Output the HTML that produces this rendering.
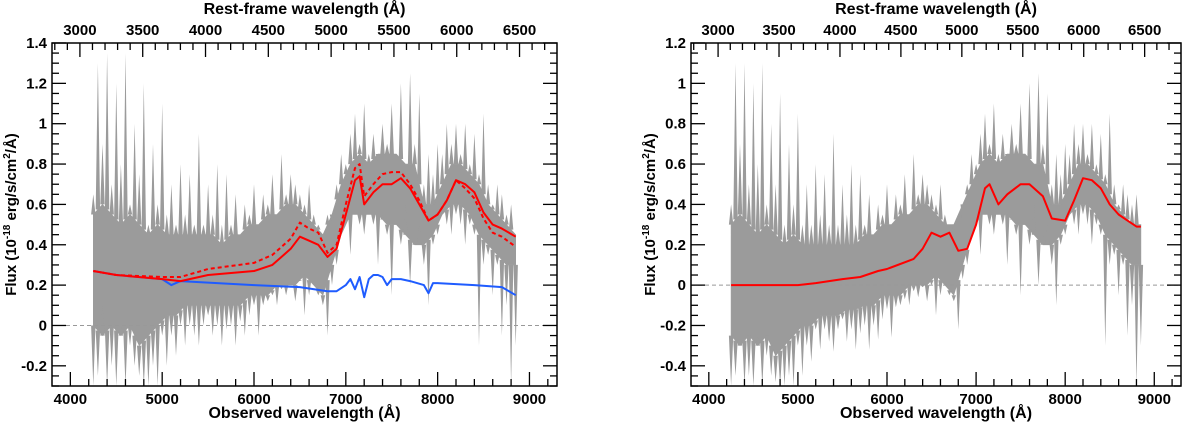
<!DOCTYPE html>
<html><head><meta charset="utf-8"><style>
body{margin:0;background:#fff}
svg text{font-family:"Liberation Sans",sans-serif;font-weight:bold;fill:#000}
</style></head><body>
<svg id="chart" width="1200" height="425" viewBox="0 0 1200 425" xmlns="http://www.w3.org/2000/svg"></svg>
<script>
const waves=[];for(let w=4250;w<=8850;w+=50)waves.push(w);
const coreWaves=[];for(let w=4250;w<=8850;w+=100)coreWaves.push(w);
const leftUpper=[0.65,1.3,0.9,1.35,0.7,1.2,0.8,1.35,0.6,1.0,0.75,1.2,0.5,0.9,0.6,1.1,0.55,0.7,0.5,0.8,0.55,0.75,0.5,0.95,0.5,0.7,0.55,0.8,0.5,0.75,0.5,0.65,0.45,0.6,0.55,0.7,0.5,0.65,0.6,0.75,0.55,0.85,0.65,0.75,0.7,0.65,0.6,0.7,0.55,0.5,0.45,0.55,0.5,0.7,0.85,0.8,0.95,1.05,0.9,1.1,0.85,0.95,0.8,1.0,0.9,1.1,0.85,1.2,0.8,1.25,0.9,1.15,0.7,0.85,0.75,0.9,0.85,1.0,0.9,1.0,0.85,1.0,0.8,0.95,0.75,1.05,0.7,0.6,0.7,0.65,0.55,0.6,0.45];
const leftLower=[-0.3,-0.25,0.1,-0.3,-0.2,-0.3,0.0,-0.3,-0.1,-0.2,-0.25,-0.3,-0.3,-0.2,-0.3,-0.05,-0.2,-0.05,-0.15,0.0,-0.1,0.0,-0.05,-0.1,0.0,0.05,-0.05,0.0,-0.1,-0.02,0.0,-0.1,0.02,-0.05,0.05,0.1,-0.05,0.1,0.12,0.15,0.1,0.18,0.15,0.2,0.12,0.22,0.05,0.15,0.2,0.15,0.1,-0.05,0.2,0.3,0.45,0.5,0.35,0.55,0.5,0.45,0.55,0.5,0.3,0.55,0.45,0.15,0.5,0.4,0.6,0.2,0.45,0.5,0.3,0.1,0.4,0.45,0.55,0.5,0.45,0.55,0.5,0.4,0.5,0.45,-0.1,0.3,0.35,0.15,0.3,-0.05,0.1,-0.3,-0.1];
const leftCoreUpper=[0.55,0.6,0.55,0.5,0.55,0.5,0.45,0.5,0.45,0.45,0.45,0.45,0.45,0.45,0.4,0.45,0.45,0.5,0.5,0.55,0.55,0.6,0.6,0.55,0.5,0.45,0.55,0.7,0.8,0.85,0.8,0.85,0.85,0.85,0.8,0.8,0.6,0.6,0.7,0.8,0.8,0.75,0.7,0.6,0.55,0.5,0.45];
const leftCoreLower=[0.0,-0.05,0.0,-0.05,0.0,-0.1,-0.05,0.0,0.05,0.05,0.1,0.1,0.1,0.1,0.1,0.1,0.1,0.15,0.15,0.15,0.2,0.2,0.2,0.25,0.2,0.15,0.3,0.45,0.55,0.55,0.55,0.55,0.5,0.5,0.45,0.4,0.4,0.45,0.55,0.6,0.6,0.55,0.45,0.4,0.35,0.3,0.3];
const rightUpper=[0.4,1.1,0.7,1.1,0.5,1.0,0.6,1.1,0.4,0.8,0.5,0.95,0.3,0.7,0.4,0.85,0.3,0.5,0.3,0.6,0.35,0.55,0.3,0.75,0.3,0.5,0.35,0.6,0.3,0.55,0.3,0.45,0.25,0.4,0.35,0.5,0.3,0.45,0.4,0.55,0.35,0.65,0.45,0.55,0.5,0.45,0.4,0.5,0.35,0.3,0.25,0.35,0.3,0.5,0.65,0.6,0.75,0.85,0.7,0.9,0.65,0.75,0.6,0.8,0.7,0.9,0.65,1.0,0.6,1.05,0.7,0.95,0.5,0.65,0.55,0.7,0.65,0.8,0.7,0.8,0.65,0.8,0.6,0.75,0.55,0.85,0.5,0.4,0.5,0.45,0.4,0.45,0.3];
const rightLower=[-0.5,-0.45,-0.15,-0.5,-0.45,-0.5,-0.25,-0.5,-0.35,-0.45,-0.48,-0.5,-0.5,-0.45,-0.5,-0.3,-0.45,-0.3,-0.38,-0.22,-0.32,-0.22,-0.28,-0.33,-0.22,-0.17,-0.28,-0.22,-0.32,-0.24,-0.2,-0.32,-0.2,-0.27,-0.17,-0.12,-0.26,-0.11,-0.1,-0.07,-0.1,-0.03,-0.06,-0.01,-0.08,0.0,-0.15,-0.05,0.0,-0.05,-0.08,-0.22,0.03,0.1,0.25,0.3,0.15,0.35,0.3,0.25,0.35,0.3,0.1,0.33,0.25,-0.05,0.3,0.2,0.4,0.0,0.25,0.3,0.1,-0.1,0.2,0.25,0.35,0.3,0.25,0.35,0.3,0.2,0.3,0.25,-0.3,0.1,0.15,-0.05,0.1,-0.25,-0.1,-0.5,-0.3];
const rightCoreUpper=[0.3,0.35,0.3,0.25,0.3,0.25,0.2,0.25,0.2,0.2,0.2,0.2,0.2,0.2,0.2,0.25,0.25,0.3,0.3,0.35,0.35,0.4,0.4,0.35,0.3,0.3,0.4,0.5,0.6,0.65,0.6,0.65,0.65,0.65,0.6,0.6,0.4,0.4,0.5,0.6,0.6,0.55,0.5,0.4,0.35,0.3,0.3];
const rightCoreLower=[-0.25,-0.3,-0.25,-0.3,-0.25,-0.35,-0.3,-0.25,-0.2,-0.2,-0.15,-0.15,-0.15,-0.12,-0.12,-0.1,-0.1,-0.05,-0.05,-0.05,0.0,0.0,0.0,0.05,0.0,-0.05,0.1,0.25,0.35,0.35,0.35,0.35,0.3,0.3,0.25,0.2,0.2,0.25,0.35,0.4,0.4,0.35,0.25,0.2,0.15,0.1,0.1];
const modelWaves=[4250,4500,5000,5200,5500,6000,6200,6400,6500,6600,6700,6800,6900,7000,7100,7150,7200,7300,7400,7500,7600,7700,7800,7900,8000,8100,8200,8300,8400,8500,8600,8700,8850];
const modelSolid=[0.27,0.25,0.23,0.22,0.25,0.27,0.30,0.38,0.44,0.42,0.40,0.34,0.38,0.55,0.72,0.74,0.60,0.66,0.70,0.70,0.73,0.68,0.60,0.52,0.55,0.62,0.72,0.70,0.66,0.56,0.50,0.48,0.44];
const modelDashed=[0.27,0.25,0.24,0.24,0.28,0.31,0.35,0.43,0.51,0.48,0.46,0.36,0.40,0.60,0.78,0.80,0.64,0.70,0.75,0.76,0.76,0.70,0.62,0.52,0.55,0.62,0.72,0.68,0.63,0.53,0.46,0.44,0.39];
const hostWaves=[4250,4500,5000,5100,5200,6000,6500,6800,6900,7000,7050,7100,7150,7200,7250,7300,7350,7400,7450,7500,7600,7700,7850,7900,7950,8000,8400,8700,8850];
const hostFlux=[0.27,0.25,0.23,0.20,0.22,0.20,0.19,0.17,0.17,0.20,0.23,0.18,0.24,0.14,0.23,0.25,0.25,0.24,0.20,0.23,0.23,0.22,0.20,0.16,0.21,0.21,0.20,0.19,0.15];
const rightModelWaves=[4250,5000,5200,5500,5700,5900,6000,6300,6400,6500,6600,6700,6800,6900,7000,7100,7150,7250,7350,7500,7600,7750,7850,8000,8100,8200,8300,8400,8500,8600,8700,8800,8850];
const rightModel=[0,0,0.01,0.03,0.04,0.07,0.08,0.13,0.18,0.26,0.24,0.26,0.17,0.18,0.30,0.48,0.50,0.40,0.45,0.50,0.50,0.44,0.33,0.32,0.42,0.53,0.52,0.48,0.40,0.35,0.32,0.29,0.29];
const bottomTicks=[4000,5000,6000,7000,8000,9000];
const topTicks=[3000,3500,4000,4500,5000,5500,6000,6500];
const leftYTicks=[-0.2,0,0.2,0.4,0.6,0.8,1,1.2,1.4];
const rightYTicks=[-0.4,-0.2,0,0.2,0.4,0.6,0.8,1,1.2];
const redshift=0.368;

const NS="http://www.w3.org/2000/svg";
const svg=document.getElementById('chart');
function mk(tag,attrs,parent){const e=document.createElementNS(NS,tag);for(const k in attrs)e.setAttribute(k,attrs[k]);(parent||svg).appendChild(e);return e;}
function fmt(v){return (Math.round(v*10)/10).toString();}
function interp(w,ws,vs){for(let i=0;i<ws.length-1;i++){if(w<=ws[i+1]){const t=(w-ws[i])/(ws[i+1]-ws[i]);return vs[i]+t*(vs[i+1]-vs[i]);}}return vs[vs.length-1];}

function panel(id,x0,x1,y0,y1,ymin,ymax,yticks,up,lo,cu,cl,lines){
  const xs=w=>x0+(w-3800)/(9300-3800)*(x1-x0);
  const ys=v=>y1-(v-ymin)/(ymax-ymin)*(y1-y0);
  const g=mk('g',{});
  
  
  const cp=mk('clipPath',{id:id+'clip'},g);mk('rect',{x:x0,y:y0,width:x1-x0,height:y1-y0},cp);
  const pg=mk('g',{'clip-path':'url(#'+id+'clip)'},g);
  let d='';coreWaves.forEach((w,i)=>{d+=(i?'L':'M')+xs(w).toFixed(1)+' '+ys(cu[i]).toFixed(1);});
  for(let i=coreWaves.length-1;i>=0;i--)d+='L'+xs(coreWaves[i]).toFixed(1)+' '+ys(cl[i]).toFixed(1);
  const band=mk('path',{d:d+'Z',fill:'#9b9b9b',stroke:'#9b9b9b','stroke-width':0.6},pg);
  
  
  let sd='';
  waves.forEach((w,i)=>{const X=xs(w);const cU=ys(interp(w,coreWaves,cu)),cL=ys(interp(w,coreWaves,cl));
    sd+='M'+(X-2.2).toFixed(1)+' '+cU.toFixed(1)+'L'+X.toFixed(1)+' '+ys(up[i]).toFixed(1)+'L'+(X+2.2).toFixed(1)+' '+cU.toFixed(1)+'Z';
    sd+='M'+(X-2.2).toFixed(1)+' '+cL.toFixed(1)+'L'+X.toFixed(1)+' '+ys(lo[i]).toFixed(1)+'L'+(X+2.2).toFixed(1)+' '+cL.toFixed(1)+'Z';});
  const sp=mk('path',{d:sd,fill:'#9b9b9b'},pg);
  
  
  const zl=mk('line',{x1:x0,x2:x1,y1:ys(0),y2:ys(0),stroke:'#999','stroke-dasharray':'4,3','stroke-width':1},pg);
  
  
  lines.forEach(L=>{
    const p=mk('polyline',{points:L.w.map((w,i)=>xs(w).toFixed(1)+','+ys(L.v[i]).toFixed(1)).join(' '),fill:'none',stroke:L.c,'stroke-width':2,'stroke-dasharray':L.dash||'none','stroke-linejoin':'round'},pg);
    
    
  });
  mk('rect',{x:x0,y:y0,width:x1-x0,height:y1-y0,fill:'none',stroke:'#000','stroke-width':1.5},g);
  for(let w=4000;w<=9200;w+=200){const X=xs(w),M=w%1000===0,L=M?14:7;
    mk('line',{x1:X,x2:X,y1:y1,y2:y1-L,stroke:'#000','stroke-width':1.3},g);}
  bottomTicks.forEach(w=>{const t=mk('text',{x:xs(w),y:y1+18,'text-anchor':'middle','font-size':15},g);t.textContent=w;
    
    });
  for(let r=2800;r<=6800;r+=100){const X=xs(r*(1+redshift));if(X<x0||X>x1)continue;const M=r%500===0;
    mk('line',{x1:X,x2:X,y1:y0,y2:y0+(M?14:7),stroke:'#000','stroke-width':1.3},g);}
  topTicks.forEach(r=>{const t=mk('text',{x:xs(r*(1+redshift)),y:y0-8,'text-anchor':'middle','font-size':15},g);t.textContent=r;
    
    });
  for(let k=Math.ceil(ymin/0.05-1e-6);k*0.05<=ymax+1e-6;k++){const v=k*0.05,Y=ys(v),M=Math.abs(v/0.2-Math.round(v/0.2))<1e-6,L=M?14:7;
    mk('line',{x1:x0,x2:x0+L,y1:Y,y2:Y,stroke:'#000','stroke-width':1.3},g);
    mk('line',{x1:x1,x2:x1-L,y1:Y,y2:Y,stroke:'#000','stroke-width':1.3},g);}
  yticks.forEach(v=>{const t=mk('text',{x:x0-5,y:ys(v)+5,'text-anchor':'end','font-size':15},g);t.textContent=fmt(v);
    
    });
  const xt=mk('text',{x:(x0+x1)/2,y:418,'text-anchor':'middle','font-size':16},g);xt.textContent='Observed wavelength (Å)';
  
  
  const tt=mk('text',{x:(x0+x1)/2,y:14,'text-anchor':'middle','font-size':16},g);tt.textContent='Rest-frame wavelength (Å)';
  
  
  const yx=x0-36,yc=(y0+y1)/2;
  const yt=mk('text',{x:yx,y:yc,'text-anchor':'middle','font-size':15,transform:'rotate(-90 '+yx+' '+yc+')'},g);
  yt.innerHTML='Flux (10<tspan dy="-6" font-size="10">-18</tspan><tspan dy="6"> erg/s/cm</tspan><tspan dy="-6" font-size="10">2</tspan><tspan dy="6">/Å)</tspan>';
  
  
}
panel('left',52,557,43,386,-0.3,1.4,leftYTicks,leftUpper,leftLower,leftCoreUpper,leftCoreLower,[
  {w:hostWaves,v:hostFlux,c:'#1f5cff',name:'host-galaxy-line'},
  {w:modelWaves,v:modelDashed,c:'#ff0000',dash:'4,3',name:'model-dashed-line'},
  {w:modelWaves,v:modelSolid,c:'#ff0000',name:'model-solid-line'}]);
panel('right',691,1181,43,386,-0.5,1.2,rightYTicks,rightUpper,rightLower,rightCoreUpper,rightCoreLower,[
  {w:rightModelWaves,v:rightModel,c:'#ff0000',name:'residual-model-line'}]);
</script>
</body></html>
